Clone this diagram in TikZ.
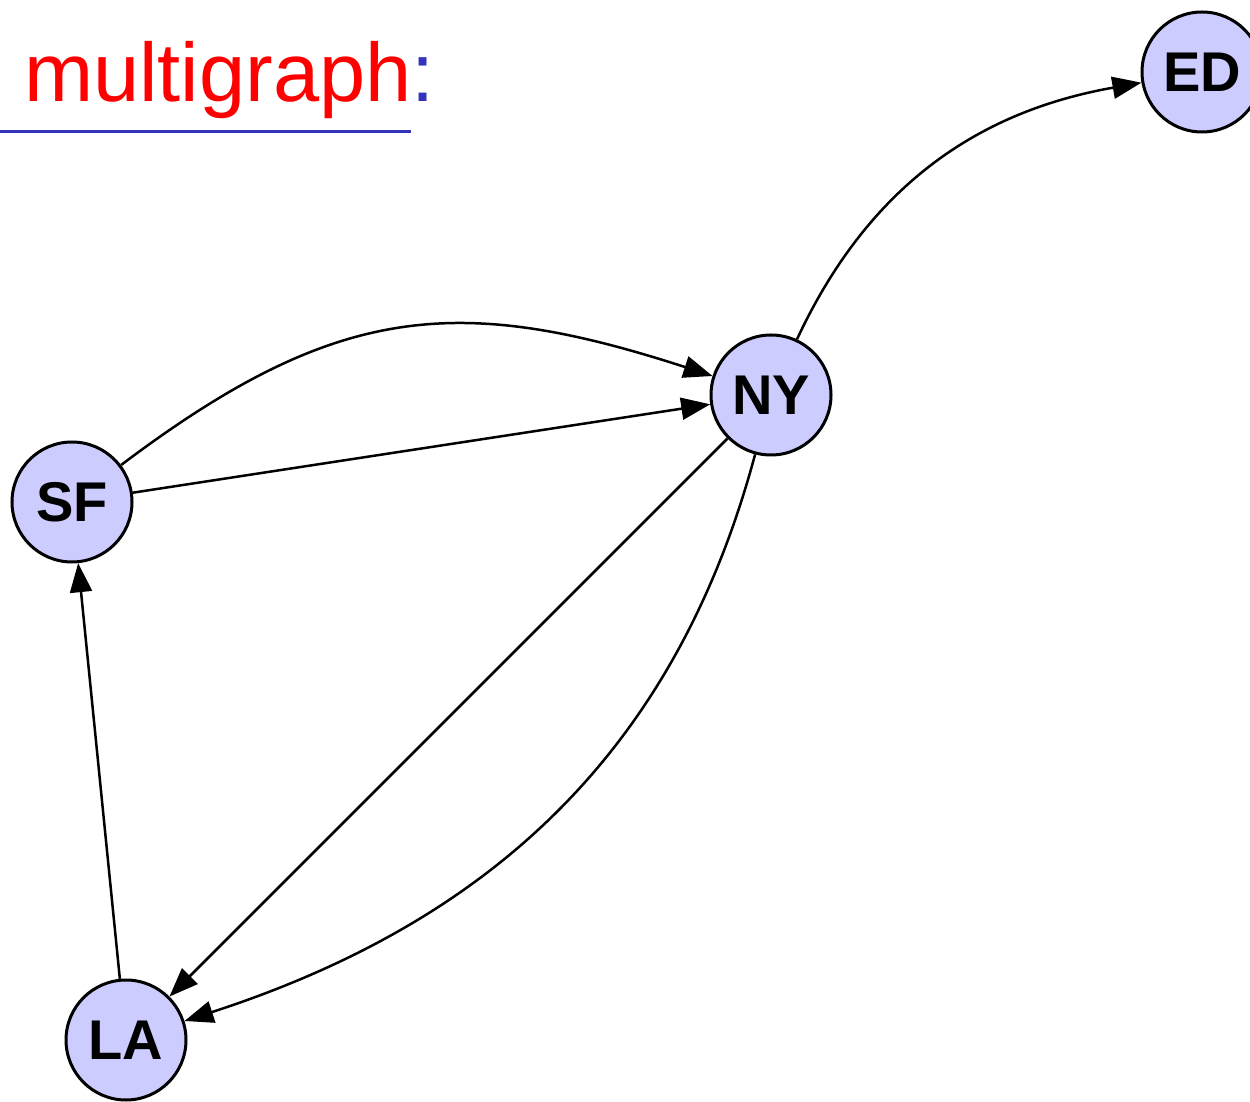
\documentclass[tikz,border=0pt]{standalone}
\usepackage{fontspec}
\setmainfont{Liberation Sans}
\usetikzlibrary{arrows.meta}
\definecolor{nodefill}{HTML}{CCCCFF}
\definecolor{ulblue}{HTML}{3333BB}
\begin{document}
\begin{tikzpicture}[x=1pt,y=1pt,
  city/.style={circle, draw=black, line width=3pt, fill=nodefill, minimum size=120pt, inner sep=0pt, font=\fontsize{56}{60}\selectfont\bfseries},
  edge/.style={line width=2.5pt, -{Triangle[length=29pt,width=22pt]}}]
\useasboundingbox (0,0) rectangle (1250,1101);
\node[anchor=base west, inner sep=0pt, font=\fontsize{83}{88}\selectfont] (title) at (24,999) {\textcolor{red}{multigraph}\textcolor{ulblue}{:}};
\coordinate (ulA) at (0,969);
\coordinate (ulB) at (411,969);
\draw[ulblue, line width=3pt] (ulA) -- (ulB);
\node[city] (ED) at (1202,1029) {ED};
\node[city] (NY) at (771,706) {NY};
\node[city] (SF) at (72,599) {SF};
\node[city] (LA) at (126,61) {LA};
\draw[edge] (NY) to[out=65,in=190] (ED);
\draw[edge] (SF) to[out=37,in=162,looseness=1.15] (NY);
\draw[edge] (SF) -- (NY);
\draw[edge] (NY) -- (LA);
\draw[edge] (NY) to[out=255,in=18] (LA);
\draw[edge] (LA) -- (SF);
\end{tikzpicture}
\end{document}
